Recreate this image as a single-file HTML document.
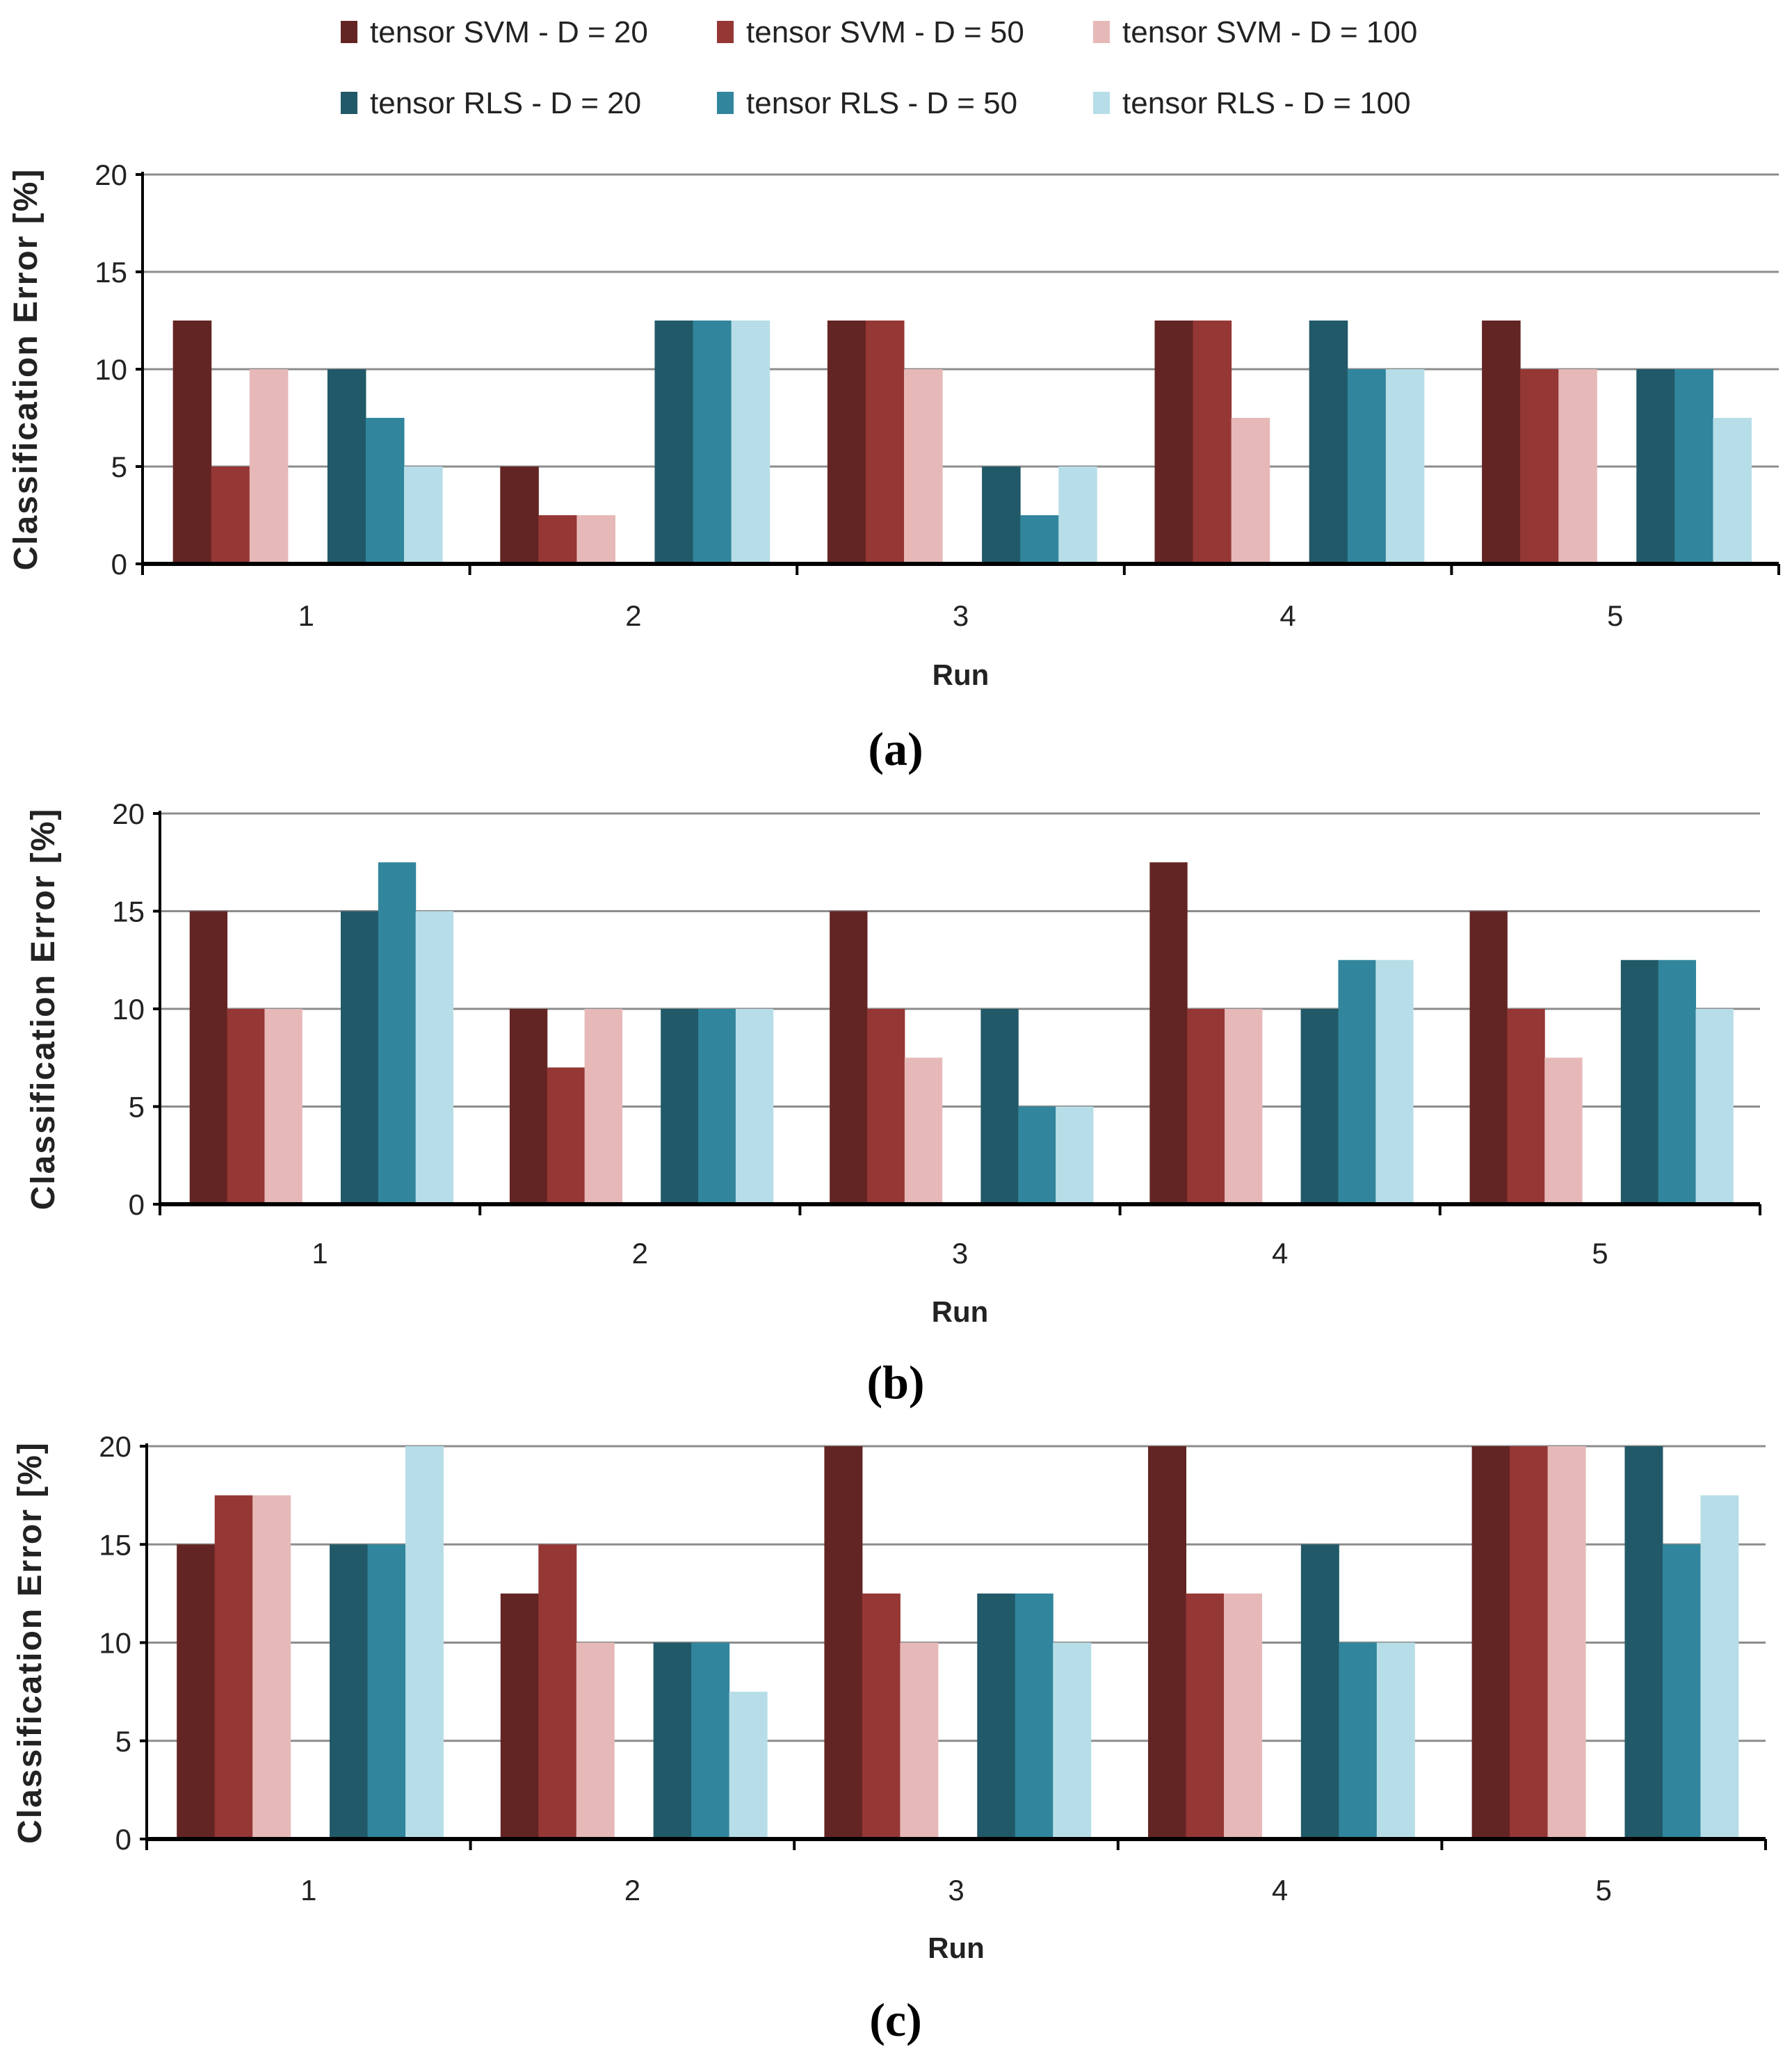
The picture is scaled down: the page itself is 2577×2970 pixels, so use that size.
<!DOCTYPE html>
<html><head><meta charset="utf-8"><style>
html,body{margin:0;padding:0;background:#fff}
svg{display:block}
</style></head><body>
<svg id="chart" width="2577" height="2970" xmlns="http://www.w3.org/2000/svg" font-family="Liberation Sans, sans-serif"></svg>
<script>
const categories = ["1","2","3","4","5"];
const seriesNames = ["tensor SVM - D = 20","tensor SVM - D = 50","tensor SVM - D = 100","tensor RLS - D = 20","tensor RLS - D = 50","tensor RLS -  D = 100"];
const yTicks = [0,5,10,15,20];
const a_svm20 = [12.5,5,12.5,12.5,12.5];
const a_svm50 = [5,2.5,12.5,12.5,10];
const a_svm100 = [10,2.5,10,7.5,10];
const a_rls20 = [10,12.5,5,12.5,10];
const a_rls50 = [7.5,12.5,2.5,10,10];
const a_rls100 = [5,12.5,5,10,7.5];
const b_svm20 = [15,10,15,17.5,15];
const b_svm50 = [10,7,10,10,10];
const b_svm100 = [10,10,7.5,10,7.5];
const b_rls20 = [15,10,10,10,12.5];
const b_rls50 = [17.5,10,5,12.5,12.5];
const b_rls100 = [15,10,5,12.5,10];
const c_svm20 = [15,12.5,20,20,20];
const c_svm50 = [17.5,15,12.5,12.5,20];
const c_svm100 = [17.5,10,10,12.5,20];
const c_rls20 = [15,10,12.5,15,20];
const c_rls50 = [15,10,12.5,10,15];
const c_rls100 = [20,7.5,10,10,17.5];

const colors = ["#632523","#953735","#e6b9b8","#215968","#31859c","#b7dee8"];
const NS="http://www.w3.org/2000/svg";
const svg=document.getElementById('chart');
function mk(tag,attrs,parent){const e=document.createElementNS(NS,tag);for(const k in attrs)e.setAttribute(k,attrs[k]);(parent||svg).appendChild(e);return e;}

const lg=mk('g',{});


const lx=[490,1031,1572], ly=[46,148];
seriesNames.forEach((n,i)=>{
  const g=mk('g',{},lg);
  
  
  const x=lx[i%3], y=ly[Math.floor(i/3)];
  mk('rect',{x:x,y:y-16,width:24,height:32,fill:colors[i]},g);
  const t=mk('text',{x:x+42,y:y+15,'font-size':44,fill:'#222'},g);
  t.textContent=n;
});

const panels=[
  {id:'a',L:205,R:2558,T:251,B:811,data:[a_svm20,a_svm50,a_svm100,a_rls20,a_rls50,a_rls100],catY:900,runY:985,capY:1100},
  {id:'b',L:230,R:2531,T:1170,B:1732,data:[b_svm20,b_svm50,b_svm100,b_rls20,b_rls50,b_rls100],catY:1817,runY:1901,capY:2011},
  {id:'c',L:211,R:2539,T:2080,B:2645,data:[c_svm20,c_svm50,c_svm100,c_rls20,c_rls50,c_rls100],catY:2733,runY:2816,capY:2928}
];
panels.forEach(p=>{
  const g=mk('g',{});
  
  
  const yS=v=>p.B-(v/20)*(p.B-p.T);
  const gw=(p.R-p.L)/categories.length;
  const bw=gw*29/247.8, off=gw*23/247.8, gap=gw*30/247.8;
  yTicks.forEach(v=>{
    if(v>0){const l=mk('line',{x1:p.L,x2:p.R,y1:yS(v),y2:yS(v),stroke:'#8c8c8c','stroke-width':3},g);
      }
    mk('line',{x1:p.L-10,x2:p.L,y1:yS(v),y2:yS(v),stroke:'#000','stroke-width':4},g);
    const t=mk('text',{x:p.L-22,y:yS(v)+15,'font-size':42,'text-anchor':'end',fill:'#222'},g);
    
    t.textContent=v;
  });
  p.data.forEach((arr,s)=>{
    arr.forEach((v,c)=>{
      const x=p.L+c*gw+off+s*bw+(s>=3?gap:0);
      const r=mk('rect',{x:x,y:yS(v),width:bw+0.5,height:p.B-yS(v),fill:colors[s]},g);
      
      
    });
  });
  mk('line',{x1:p.L,x2:p.L,y1:p.T-4,y2:p.B,stroke:'#000','stroke-width':4},g);
  mk('line',{x1:p.L-2,x2:p.R,y1:p.B,y2:p.B,stroke:'#000','stroke-width':6},g);
  for(let i=0;i<=categories.length;i++){
    mk('line',{x1:p.L+i*gw,x2:p.L+i*gw,y1:p.B,y2:p.B+16,stroke:'#000','stroke-width':4},g);
  }
  categories.forEach((c,i)=>{
    const t=mk('text',{x:p.L+(i+0.5)*gw,y:p.catY,'font-size':42,'text-anchor':'middle',fill:'#222'},g);
    
    t.textContent=c;
  });
  const rt=mk('text',{x:(p.L+p.R)/2,y:p.runY,'font-size':42,'font-weight':'bold','text-anchor':'middle',fill:'#222'},g);
  
  rt.textContent='Run';
  const cy=(p.T+p.B)/2;
  const yt=mk('text',{x:0,y:0,'font-size':48,'font-weight':'bold','letter-spacing':2,'text-anchor':'middle',fill:'#222',transform:`translate(${p.L-152},${cy}) rotate(-90)`},g);
  
  yt.textContent='Classification Error [%]';
  const cap=mk('text',{x:1288,y:p.capY,'font-size':68,'font-weight':'bold','text-anchor':'middle','font-family':'Liberation Serif, serif',fill:'#000'},g);
  
  cap.textContent='('+p.id+')';
});
</script>
</body></html>
